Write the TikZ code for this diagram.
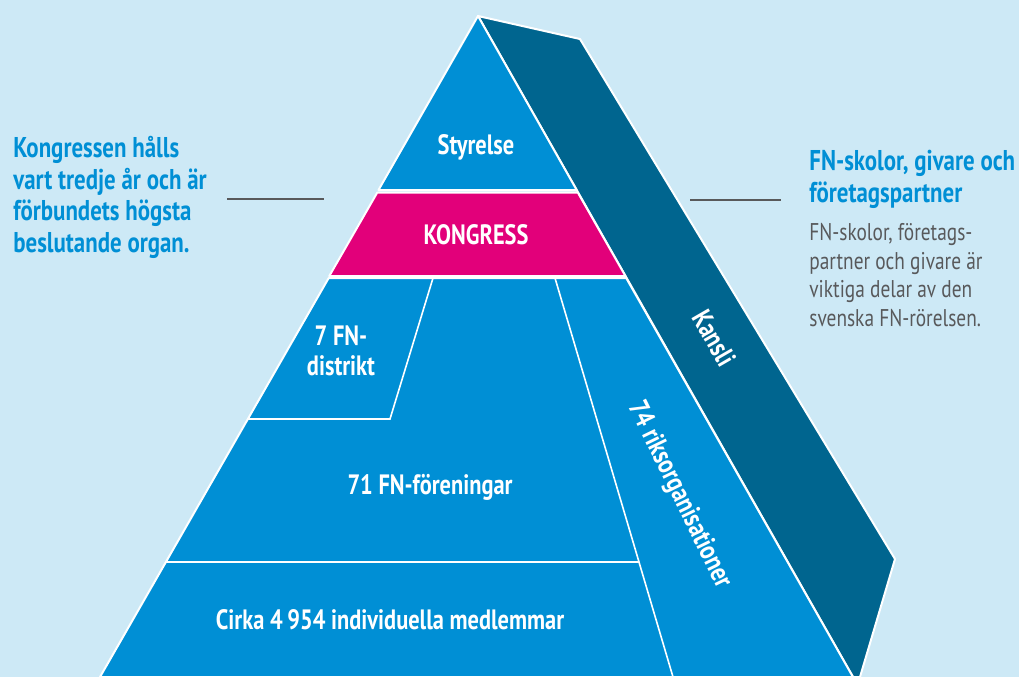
\documentclass[tikz,border=0pt]{standalone}
\usepackage{fontspec}
\usepackage{tikz}
\usetikzlibrary{positioning}
\newfontfamily\cond{PT Sans}[FakeStretch=0.8]

\definecolor{bgblue}{RGB}{205,233,246}
\definecolor{faceblue}{RGB}{0,143,213}
\definecolor{sideblue}{RGB}{0,101,143}
\definecolor{kongmag}{RGB}{226,0,122}
\definecolor{notegray}{RGB}{88,89,91}

\begin{document}
\begin{tikzpicture}[x=0.5pt, y=-0.5pt, every node/.style={font=\cond\bfseries\fontsize{14}{15}\selectfont, text=white, inner sep=0pt}]
\tikzstyle{face} = [fill=faceblue, draw=white, line width=1pt, line join=round]
\tikzstyle{divider} = [draw=white, line width=0.8pt]
\tikzstyle{note} = [anchor=north west, align=left, text=faceblue, font=\cond\bfseries\fontsize{14.3}{15.75}\selectfont]
\tikzstyle{pointer} = [draw=notegray, line width=0.7pt]

\fill[bgblue] (0,0) rectangle (1019,677);
\useasboundingbox (0,0) rectangle (1019,677);

% side face
\draw[face, fill=sideblue] (478,16) -- (580,39) -- (895,559) -- (860,677) -- (853,677) -- cycle;

% front face
\draw[face] (478,16) -- (576.7,190) -- (378.5,190) -- cycle;
\draw[face, fill=kongmag] (377.3,192.5) -- (577.8,192.5) -- (625.4,276) -- (329.3,276) -- cycle;
\draw[face] (328.7,278) -- (626.2,278) -- (853,677) -- (100,677) -- cycle;
\draw[divider] (433,278) -- (390,419) -- (247.5,419);
\draw[divider] (555,278) -- (673,677);
\draw[divider] (165.7,562) -- (639,562);

% labels
\node (styrelse) at (476,147) {Styrelse};
\node (kongress) at (476,235) {KONGRESS};
\node[align=center] (distrikt) at (341,351) {7 FN-\\distrikt};
\node (foreningar) at (430,487) {71 FN-föreningar};
\node (medlemmar) at (390,620) {Cirka 4\,954 individuella medlemmar};
\node[rotate=-64] (riks) at (679,495) {74 riksorganisationer};
\node[rotate=-60] (kansli) at (714,338) {Kansli};

% notes
\node[note] (kongNote) at (13,136) {Kongressen hålls\\vart tredje år och är\\förbundets högsta\\beslutande organ.};
\node[note] (partnerHead) at (809,150) {FN-skolor, givare och\\företagspartner};
\node[note, text=notegray, font=\cond\fontsize{12.1}{14.25}\selectfont] (partnerText) at (809,223) {FN-skolor, företags-\\partner och givare är\\viktiga delar av den\\svenska FN-rörelsen.};

\coordinate (kongL) at (227,199);
\coordinate (kongR) at (324,199);
\coordinate (partL) at (690,200);
\coordinate (partR) at (781,200);
\draw[pointer] (kongL) -- (kongR);
\draw[pointer] (partL) -- (partR);

\end{tikzpicture}
\end{document}
